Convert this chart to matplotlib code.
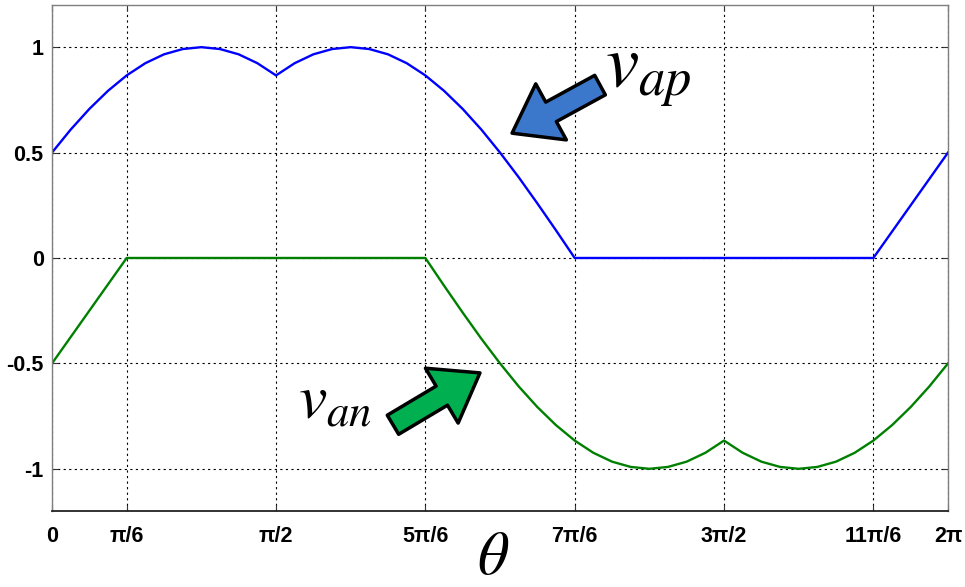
import numpy as np
import matplotlib
matplotlib.use("Agg")
import matplotlib.pyplot as plt
from matplotlib.patches import FancyArrowPatch

# phase leg voltages sampled every pi/24 over one period
theta = np.arange(49) * np.pi / 24

v_ap = [0.5, 0.609, 0.707, 0.793, 0.866, 0.924, 0.966, 0.991, 1.0, 0.991, 0.966, 0.924, 0.866,
        0.924, 0.966, 0.991, 1.0, 0.991, 0.966, 0.924, 0.866, 0.793, 0.707, 0.609, 0.5,
        0.383, 0.259, 0.131, 0.0, 0.0, 0.0, 0.0, 0.0, 0.0, 0.0, 0.0, 0.0,
        0.0, 0.0, 0.0, 0.0, 0.0, 0.0, 0.0, 0.0, 0.125, 0.25, 0.375, 0.5]

v_an = [-0.5, -0.375, -0.25, -0.125, 0.0, 0.0, 0.0, 0.0, 0.0, 0.0, 0.0, 0.0, 0.0,
        0.0, 0.0, 0.0, 0.0, 0.0, 0.0, 0.0, 0.0, -0.131, -0.259, -0.383, -0.5,
        -0.609, -0.707, -0.793, -0.866, -0.924, -0.966, -0.991, -1.0, -0.991, -0.966, -0.924, -0.866,
        -0.924, -0.966, -0.991, -1.0, -0.991, -0.966, -0.924, -0.866, -0.793, -0.707, -0.609, -0.5]

xticks = [0, np.pi / 6, np.pi / 2, 5 * np.pi / 6, 7 * np.pi / 6, 3 * np.pi / 2, 11 * np.pi / 6, 2 * np.pi]
xtick_labels = ['0', 'π/6', 'π/2', '5π/6', '7π/6', '3π/2', '11π/6', '2π']
yticks = [-1, -0.5, 0, 0.5, 1]
ytick_labels = ['-1', '-0.5', '0', '0.5', '1']

plt.rcParams['font.family'] = ['Liberation Sans', 'DejaVu Sans']
plt.rcParams['mathtext.fontset'] = 'stix'

fig = plt.figure(figsize=(9.65, 5.87), dpi=100)
ax = fig.add_axes([0.0539, 0.1295, 0.9285, 0.862])

ax.plot(theta, v_ap, color=(0, 0, 1), lw=1.7)
ax.plot(theta, v_an, color=(0, 0.5, 0), lw=1.7)

ax.set_xlim(0, 2 * np.pi)
ax.set_ylim(-1.2, 1.2)
ax.set_xticks(xticks)
ax.set_xticklabels(xtick_labels, fontsize=15.5, fontweight='bold')
ax.set_yticks(yticks)
ax.set_yticklabels(ytick_labels, fontsize=15.5, fontweight='bold')
ax.tick_params(direction='in', length=4, top=True, right=True, color='#333333')
ax.tick_params(axis='x', pad=11)
ax.tick_params(axis='y', pad=6)

ax.grid(True, color='black', linestyle=(0, (2, 3)), linewidth=0.8)
for side in ['left', 'right', 'top']:
    ax.spines[side].set_color('#7f7f7f')
    ax.spines[side].set_linewidth(1.0)
ax.spines['bottom'].set_color('#222222')
ax.spines['bottom'].set_linewidth(1.3)

fig.text(0.511, 0.022, r'$\theta$', fontsize=44, ha='center', va='baseline')

# labels with fat block arrows pointing at the curves
ax.text(0.617, 0.838, r'$v_{ap}$', transform=ax.transAxes, fontsize=54,
        ha='left', va='baseline')
ax.text(0.2746, 0.184, r'$v_{an}$', transform=ax.transAxes, fontsize=46,
        ha='left', va='baseline')

arrow_style = "simple,head_length=3.2,head_width=4.6,tail_width=1.6"
ax.add_patch(FancyArrowPatch((3.843, 0.82), (3.226, 0.592), arrowstyle=arrow_style,
                             mutation_scale=10, facecolor='#3b78cc', edgecolor='black',
                             lw=2.5, shrinkA=0, shrinkB=0, zorder=5))
ax.add_patch(FancyArrowPatch((2.391, -0.791), (3.001, -0.545), arrowstyle=arrow_style,
                             mutation_scale=10, facecolor='#00b050', edgecolor='black',
                             lw=2.5, shrinkA=0, shrinkB=0, zorder=5))

fig.savefig('out.png', dpi=100)
